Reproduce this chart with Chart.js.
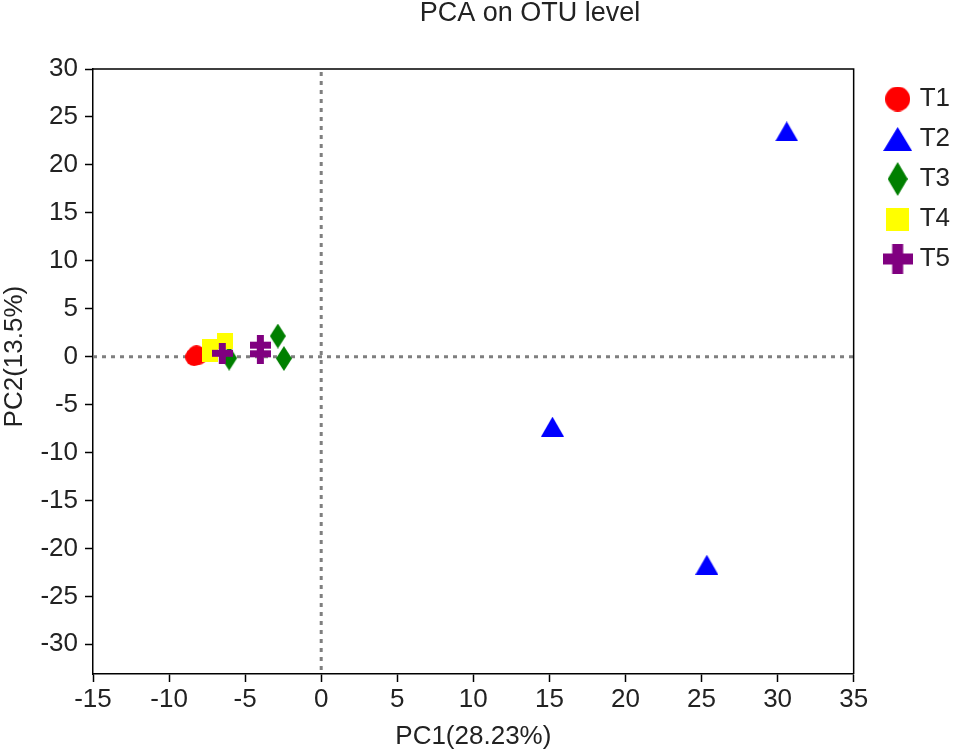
<!DOCTYPE html>
<html>
<head>
<meta charset="utf-8">
<title>PCA on OTU level</title>
<script src="https://cdn.jsdelivr.net/npm/chart.js@4.4.1/dist/chart.umd.min.js"></script>
<style>
  html, body { margin: 0; padding: 0; background: #fff; }
  #wrap { width: 955px; height: 752px; }
</style>
</head>
<body>
<div id="wrap"><canvas id="pca" width="955" height="752"></canvas></div>
<script>
// sample groups and their PCA scores (PC1, PC2)
const groups = ['T1', 'T2', 'T3', 'T4', 'T5'];

const t1PC1 = [-8.35, -8.2, -8.05];
const t1PC2 = [-0.05, 0.25, 0.1];

const t2PC1 = [30.6, 15.2, 25.35];
const t2PC2 = [23.5, -7.3, -21.7];

const t3PC1 = [-6.05, -2.85, -2.45];
const t3PC2 = [-0.15, 2.15, -0.2];

const t4PC1 = [-7.3, -7.3, -6.35];
const t4PC2 = [1.0, 0.3, 1.6];

const t5PC1 = [-6.5, -4.0, -4.0];
const t5PC2 = [0.35, 1.2, 0.3];

const xTicks = [-15, -10, -5, 0, 5, 10, 15, 20, 25, 30, 35];
const yTicks = [-30, -25, -20, -15, -10, -5, 0, 5, 10, 15, 20, 25, 30];

const FONT = '"Liberation Sans", Arial, Helvetica, sans-serif';
const TEXT = '#222';

/**
 * Draws a filled marker into a small canvas so it can be used as a pointStyle
 */
const makeMarker = (shape, color, w, h, t) => {
    const c = document.createElement('canvas');
    c.width = w;
    c.height = h;
    const g = c.getContext('2d');
    g.fillStyle = color;
    g.beginPath();
    switch (shape) {
        case 'circle':
            g.arc(w / 2, h / 2, w / 2, 0, 2 * Math.PI);
            break;
        case 'triangle':
            g.moveTo(w / 2, 0); g.lineTo(w, h); g.lineTo(0, h); g.closePath();
            break;
        case 'diamond':
            g.moveTo(w / 2, 0); g.lineTo(w, h / 2); g.lineTo(w / 2, h); g.lineTo(0, h / 2); g.closePath();
            break;
        case 'square':
            g.rect(0, 0, w, h);
            break;
        case 'plus':
            g.rect((w - t) / 2, 0, t, h);
            g.rect(0, (h - t) / 2, w, t);
            break;
    }
    g.fill();
    return c;
};

// marker for the plot and a larger one for the legend
const styles = [
    { plot: makeMarker('circle', '#ff0000', 18, 18),     legend: makeMarker('circle', '#ff0000', 25, 25) },
    { plot: makeMarker('triangle', '#0000ff', 23, 20),   legend: makeMarker('triangle', '#0000ff', 29, 24) },
    { plot: makeMarker('diamond', '#007f00', 16, 25),    legend: makeMarker('diamond', '#007f00', 20, 34) },
    { plot: makeMarker('square', '#ffff00', 16, 16),     legend: makeMarker('square', '#ffff00', 23, 23) },
    { plot: makeMarker('plus', '#800080', 21, 21, 7),    legend: makeMarker('plus', '#800080', 30, 30, 11) }
];

const toPoints = (xs, ys) => xs.map((x, i) => ({ x: x, y: ys[i] }));
const series = [
    toPoints(t1PC1, t1PC2),
    toPoints(t2PC1, t2PC2),
    toPoints(t3PC1, t3PC2),
    toPoints(t4PC1, t4PC2),
    toPoints(t5PC1, t5PC2)
];

// dotted zero lines, the closed frame and the free-standing titles
const pcaDecor = {
    id: 'pcaDecor',
    afterLayout(chart) {
        // legend sits a little further right than the layout puts it
        const lg = chart.legend;
        lg.left += 21;
        lg.right += 21;
        lg.top += 3;
        lg.bottom += 3;
    },
    beforeDatasetsDraw(chart) {
        const { ctx, chartArea: a, scales: { x, y } } = chart;
        const x0 = x.getPixelForValue(0);
        const y0 = y.getPixelForValue(0);
        ctx.save();
        ctx.strokeStyle = '#7f7f7f';
        ctx.lineWidth = 3;
        ctx.setLineDash([4, 5]);
        ctx.beginPath();
        ctx.moveTo(x0, a.top + 3);
        ctx.lineTo(x0, a.bottom);
        ctx.moveTo(a.left, y0);
        ctx.lineTo(a.right, y0);
        ctx.stroke();
        ctx.restore();
    },
    afterDraw(chart) {
        const { ctx, chartArea: a, scales: { y } } = chart;
        ctx.save();
        ctx.strokeStyle = '#000';
        ctx.lineWidth = 1.5;
        ctx.beginPath();
        ctx.moveTo(a.left, a.top);
        ctx.lineTo(a.right, a.top);
        ctx.lineTo(a.right, a.bottom);
        ctx.stroke();

        ctx.fillStyle = TEXT;
        ctx.textAlign = 'center';
        ctx.textBaseline = 'middle';
        ctx.font = '27px ' + FONT;
        ctx.fillText('PCA on OTU level', 530, 14);

        ctx.font = '26px ' + FONT;
        ctx.translate(15, y.getPixelForValue(0));
        ctx.rotate(-Math.PI / 2);
        ctx.fillText('PC2(13.5%)', 0, 0);
        ctx.restore();
    }
};

const axisGrid = {
    drawOnChartArea: false,
    drawTicks: true,
    tickLength: 8,
    tickWidth: 1.5,
    color: '#000'
};

new Chart(document.getElementById('pca').getContext('2d'), {
    type: 'scatter',
    data: {
        datasets: groups.map((name, i) => ({
            label: name,
            data: series[i],
            pointStyle: styles[i].plot,
            order: groups.length - i,     // later groups drawn on top
            showLine: false
        }))
    },
    options: {
        responsive: false,
        animation: false,
        layout: { padding: { top: 69, right: 16 } },
        plugins: {
            tooltip: { enabled: false },
            title: { display: false },
            legend: {
                position: 'right',
                align: 'start',
                labels: {
                    usePointStyle: true,
                    boxWidth: 18,
                    padding: 14,
                    color: TEXT,
                    font: { family: FONT, size: 26 },
                    sort: (a, b) => a.datasetIndex - b.datasetIndex,
                    generateLabels: (chart) =>
                        Chart.defaults.plugins.legend.labels.generateLabels(chart).map((item) => {
                            item.pointStyle = styles[item.datasetIndex].legend;
                            return item;
                        })
                }
            }
        },
        scales: {
            x: {
                type: 'linear',
                min: -15,
                max: 35,
                afterBuildTicks: (scale) => { scale.ticks = xTicks.map(v => ({ value: v })); },
                afterFit: (scale) => { scale.height = 78; },
                ticks: { color: TEXT, font: { family: FONT, size: 26 }, padding: 2 },
                grid: axisGrid,
                border: { color: '#000', width: 1.5 },
                title: {
                    display: true,
                    text: 'PC1(28.23%)',
                    color: TEXT,
                    font: { family: FONT, size: 26 },
                    padding: { top: 4, bottom: 0 }
                }
            },
            y: {
                type: 'linear',
                min: -33.1,
                max: 30,
                afterBuildTicks: (scale) => { scale.ticks = yTicks.map(v => ({ value: v })); },
                afterFit: (scale) => { scale.width = 93; },
                ticks: { color: TEXT, font: { family: FONT, size: 26 }, padding: 7 },
                grid: axisGrid,
                border: { color: '#000', width: 1.5 }
            }
        }
    },
    plugins: [pcaDecor]
});
</script>
</body>
</html>
